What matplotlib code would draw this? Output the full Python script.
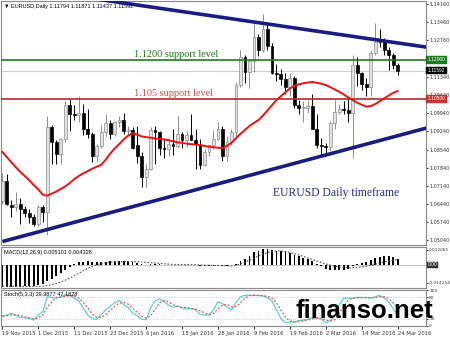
import numpy as np
import matplotlib
matplotlib.use("Agg")
import matplotlib.pyplot as plt
import matplotlib.transforms as mtrans

# EURUSD daily candles, 19 Nov 2015 .. 24 Mar 2016
opens = [1.0655, 1.0732, 1.0640, 1.0634, 1.0644, 1.0626, 1.0611, 1.0592, 1.0565, 1.0632,
         1.0612, 1.0940, 1.0882, 1.0836, 1.0894, 1.1025, 1.0993, 1.0989, 1.0994, 1.0935,
         1.0913, 1.0828, 1.0867, 1.0920, 1.0955, 1.0915, 1.0962, 1.0970, 1.0925, 1.0930,
         1.0870, 1.0830, 1.0748, 1.0780, 1.0930, 1.0920, 1.0860, 1.0857, 1.0875, 1.0867,
         1.0915, 1.0890, 1.0910, 1.0890, 1.0875, 1.0795, 1.0845, 1.0870, 1.0895, 1.0935,
         1.0830, 1.0885, 1.0920, 1.1105, 1.1210, 1.1155, 1.1195, 1.1290, 1.1240, 1.1320,
         1.1255, 1.1150, 1.1145, 1.1125, 1.1095, 1.1130, 1.1025, 1.1015, 1.1015, 1.1023,
         1.0935, 1.0872, 1.0868, 1.0865, 1.0955, 1.1000, 1.1012, 1.1008, 1.0995, 1.1180,
         1.1150, 1.1106, 1.1095, 1.1225, 1.1270, 1.1268, 1.1240, 1.1220, 1.11794]
highs = [1.0762, 1.0760, 1.0660, 1.0690, 1.0667, 1.0637, 1.0623, 1.0605, 1.0642, 1.0640,
         1.0982, 1.0948, 1.0892, 1.0900, 1.1043, 1.1050, 1.1025, 1.1060, 1.1030, 1.1010,
         1.0920, 1.0875, 1.0950, 1.0990, 1.0970, 1.0965, 1.0985, 1.0995, 1.0945, 1.0940,
         1.0945, 1.0845, 1.0800, 1.0940, 1.0945, 1.0925, 1.0900, 1.0900, 1.0935, 1.0985,
         1.0920, 1.0925, 1.0990, 1.0935, 1.0895, 1.0855, 1.0870, 1.0930, 1.0960, 1.0945,
         1.0905, 1.0935, 1.1115, 1.1240, 1.1220, 1.1200, 1.1340, 1.1300, 1.1376, 1.1340,
         1.1265, 1.1185, 1.1165, 1.1150, 1.1150, 1.1140, 1.1045, 1.1040, 1.1045, 1.1070,
         1.0990, 1.0900, 1.0880, 1.0965, 1.1045, 1.1030, 1.1040, 1.1055, 1.1218, 1.1210,
         1.1155, 1.1130, 1.1240, 1.1342, 1.1320, 1.1285, 1.1250, 1.1225, 1.11871]
lows = [1.0645, 1.0640, 1.0592, 1.0616, 1.0565, 1.0593, 1.0570, 1.0558, 1.0558, 1.0573,
        1.0524, 1.0800, 1.0797, 1.0800, 1.0882, 1.0925, 1.0970, 1.0960, 1.0910, 1.0900,
        1.0805, 1.0805, 1.0860, 1.0905, 1.0895, 1.0905, 1.0940, 1.0915, 1.0905, 1.0855,
        1.0804, 1.0710, 1.0710, 1.0775, 1.0800, 1.0835, 1.0820, 1.0830, 1.0835, 1.0860,
        1.0860, 1.0865, 1.0890, 1.0780, 1.0780, 1.0790, 1.0830, 1.0855, 1.0890, 1.0810,
        1.0810, 1.0870, 1.0900, 1.1095, 1.1110, 1.1090, 1.1155, 1.1215, 1.1230, 1.1240,
        1.1145, 1.1120, 1.1105, 1.1070, 1.1060, 1.1015, 1.0990, 1.0960, 1.0995, 1.0935,
        1.0860, 1.0835, 1.0830, 1.0850, 1.0935, 1.0990, 1.0990, 1.0960, 1.0822, 1.1100,
        1.1085, 1.1060, 1.1060, 1.1220, 1.1250, 1.1220, 1.1160, 1.1165, 1.11437]
closes = [1.0732, 1.0645, 1.0634, 1.0644, 1.0626, 1.0611, 1.0592, 1.0565, 1.0632, 1.0612,
          1.0940, 1.0882, 1.0836, 1.0894, 1.1025, 1.0993, 1.0989, 1.0994, 1.0935, 1.0913,
          1.0828, 1.0867, 1.0920, 1.0955, 1.0915, 1.0962, 1.0970, 1.0925, 1.0930, 1.0862,
          1.0830, 1.0748, 1.0780, 1.0930, 1.0920, 1.0860, 1.0857, 1.0875, 1.0867, 1.0915,
          1.0890, 1.0910, 1.0890, 1.0875, 1.0795, 1.0845, 1.0870, 1.0895, 1.0935, 1.0830,
          1.0885, 1.0920, 1.1105, 1.1210, 1.1155, 1.1195, 1.1290, 1.1240, 1.1320, 1.1255,
          1.1150, 1.1145, 1.1125, 1.1095, 1.1130, 1.1025, 1.1015, 1.1015, 1.1023, 1.0935,
          1.0872, 1.0868, 1.0865, 1.0955, 1.1000, 1.1012, 1.1008, 1.0995, 1.1180, 1.1150,
          1.1106, 1.1095, 1.1225, 1.1270, 1.1268, 1.1240, 1.1220, 1.1179, 1.11592]

# red moving average as drawn on the chart
ma_line = [1.0845, 1.0825, 1.0805, 1.0786, 1.0768, 1.0752, 1.0735, 1.0717, 1.0700, 1.0680,
           1.0676, 1.0684, 1.0692, 1.0702, 1.0712, 1.0725, 1.0740, 1.0752, 1.0762, 1.0771,
           1.0780, 1.0788, 1.0795, 1.0815, 1.0838, 1.0858, 1.0875, 1.0893, 1.0908, 1.0918,
           1.0912, 1.0905, 1.0902, 1.0900, 1.0897, 1.0895, 1.0893, 1.0890, 1.0886, 1.0882,
           1.0880, 1.0877, 1.0875, 1.0873, 1.0872, 1.0868, 1.0865, 1.0863, 1.0861, 1.0860,
           1.0868, 1.0880, 1.0898, 1.0915, 1.0930, 1.0945, 1.0957, 1.0968, 1.0985, 1.1005,
           1.1025, 1.1045, 1.1060, 1.1075, 1.1090, 1.1100, 1.1106, 1.1110, 1.1113, 1.1115,
           1.1112, 1.1108, 1.1103, 1.1095, 1.1086, 1.1077, 1.1067, 1.1055, 1.1045, 1.1035,
           1.1027, 1.1020, 1.1022, 1.1030, 1.1040, 1.1052, 1.1063, 1.1073, 1.1080]

macd_main = [-0.0176, -0.0176, -0.0175, -0.0174, -0.0172, -0.0170, -0.0168, -0.0166, -0.0160, -0.0150,
             -0.0130, -0.0108, -0.0085, -0.0062, -0.0040, -0.0015, 0.0008, 0.0020, 0.0026, 0.0028,
             0.0022, 0.0020, 0.0022, 0.0026, 0.0028, 0.0030, 0.0032, 0.0031, 0.0030, 0.0024,
             0.0018, 0.0008, 0.0002, 0.0008, 0.0010, 0.0006, 0.0003, 0.0002, 0.0001, 0.0003,
             0.0002, 0.0002, 0.0000, -0.0002, -0.0008, -0.0009, -0.0008, -0.0005, -0.0001, -0.0008,
             -0.0006, -0.0002, 0.0010, 0.0030, 0.0050, 0.0075, 0.0100, 0.0115, 0.0125, 0.0130,
             0.0122, 0.0115, 0.0108, 0.0100, 0.0092, 0.0080, 0.0068, 0.0056, 0.0045, 0.0030,
             0.0010, -0.0010, -0.0030, -0.0038, -0.0040, -0.0042, -0.0040, -0.0035, -0.0005, 0.0010,
             0.0018, 0.0025, 0.0038, 0.0052, 0.0062, 0.0068, 0.0068, 0.0062, 0.005101]
macd_signal = [-0.0168, -0.0169, -0.0170, -0.0171, -0.0171, -0.0172, -0.0172, -0.0172, -0.0171, -0.0169,
               -0.0164, -0.0157, -0.0147, -0.0135, -0.0121, -0.0104, -0.0086, -0.0066, -0.0046, -0.0027,
               -0.0011, 0.0002, 0.0012, 0.0018, 0.0023, 0.0025, 0.0026, 0.0027, 0.0028, 0.0027,
               0.0026, 0.0024, 0.0021, 0.0019, 0.0016, 0.0013, 0.0010, 0.0007, 0.0005, 0.0004,
               0.0004, 0.0004, 0.0003, 0.0002, 0.0000, -0.0001, -0.0002, -0.0003, -0.0004, -0.0005,
               -0.0006, -0.0006, -0.0002, 0.0008, 0.0022, 0.0038, 0.0055, 0.0072, 0.0088, 0.0100,
               0.0108, 0.0112, 0.0112, 0.0108, 0.0100, 0.0090, 0.0080, 0.0068, 0.0056, 0.0044,
               0.0032, 0.0020, 0.0008, -0.0002, -0.0010, -0.0016, -0.0020, -0.0022, -0.0022, -0.0020,
               -0.0016, -0.0010, -0.0003, 0.0006, 0.0015, 0.0024, 0.0032, 0.0038, 0.004328]

stoch_k = [25, 30, 35, 28, 24, 22, 20, 16, 30, 40,
           82, 80, 78, 82, 88, 86, 78, 70, 50, 30,
           20, 18, 30, 45, 55, 65, 72, 60, 52, 35,
           28, 18, 17, 50, 70, 76, 68, 58, 52, 55,
           50, 48, 48, 45, 32, 30, 30, 45, 68, 62,
           53, 44, 65, 82, 86, 86, 86, 85, 84, 80,
           70, 45, 20, 8, 10, 11, 14, 16, 18, 22,
           22, 18, 8, 14, 30, 60, 78, 78, 78, 80,
           80, 79, 78, 82, 86, 78, 67, 48, 29.3877]
stoch_d = [28, 28, 30, 31, 29, 25, 22, 19, 22, 30,
           52, 68, 80, 80, 83, 85, 84, 78, 66, 50,
           33, 23, 23, 31, 43, 55, 64, 66, 61, 49,
           38, 27, 21, 28, 46, 65, 71, 67, 59, 55,
           52, 51, 49, 47, 42, 36, 31, 35, 48, 58,
           61, 53, 54, 64, 78, 85, 86, 86, 85, 83,
           78, 65, 45, 24, 13, 10, 12, 14, 16, 19,
           21, 21, 16, 13, 17, 35, 56, 72, 78, 79,
           79, 80, 79, 80, 82, 82, 77, 64, 47.1828]

date_labels = ["19 Nov 2015", "1 Dec 2015", "11 Dec 2015", "23 Dec 2015", "6 Jan 2016",
               "18 Jan 2016", "28 Jan 2016", "9 Feb 2016", "19 Feb 2016", "2 Mar 2016",
               "14 Mar 2016", "24 Mar 2016"]
date_label_bars = [0, 8, 16, 24, 32, 40, 48, 56, 64, 72, 80, 88]

price_ticks = [1.05040, 1.05740, 1.06440, 1.07140, 1.07840, 1.08540, 1.09240,
               1.09940, 1.10640, 1.11340, 1.12760, 1.13460, 1.14160]

support_high = 1.1200
support_low = 1.1050
last_price = 1.11592
# trend lines as (bar, price) end points
upper_trend = ([0, 95], [1.1488, 1.1248])
lower_trend = ([0, 95], [1.0499, 1.0940])

W, H = 450, 337
serif = ["Liberation Serif", "DejaVu Serif"]
sans = ["Liberation Sans", "DejaVu Sans"]
SCALE_FS = 3.5   # right hand price scale


def panel(top, bottom):
    # pixel rows -> figure axes
    return fig.add_axes([1 / W, 1 - bottom / H, 425 / W, (bottom - top) / H])


fig = plt.figure(figsize=(W / 100, H / 100), dpi=100)
fig.patch.set_facecolor("white")

ax = panel(1, 245)
ax_macd = panel(247, 288)
ax_sto = panel(290, 326)

x = np.arange(len(closes))
o = np.array(opens)
c = np.array(closes)
h = np.array(highs)
l = np.array(lows)
up = c >= o

# candles
ax.vlines(x[up], l[up], h[up], color="#8c8c8c", lw=0.7, zorder=2)
ax.vlines(x[~up], l[~up], h[~up], color="black", lw=0.7, zorder=2)
body_lo = np.minimum(o, c)
body_h = np.maximum(np.abs(c - o), 0.00018)
ax.bar(x[up], body_h[up], bottom=body_lo[up], width=0.62, color="#e2e2e2",
       edgecolor="#8c8c8c", linewidth=0.5, zorder=2)
ax.bar(x[~up], body_h[~up], bottom=body_lo[~up], width=0.62, color="black",
       edgecolor="black", linewidth=0.5, zorder=2)

ax.axhline(last_price, color="#cfcfcf", lw=0.8, zorder=1)
ax.axhline(support_high, color="#1f7a1f", lw=1.2, zorder=3)
ax.axhline(support_low, color="#b52a2a", lw=1.2, zorder=3)
ax.plot(x, ma_line, color="#f01010", lw=1.4, zorder=4)
ax.plot(upper_trend[0], upper_trend[1], color="#1c1c80", lw=2.6, zorder=4,
        solid_capstyle="butt")
ax.plot(lower_trend[0], lower_trend[1], color="#1c1c80", lw=2.6, zorder=4,
        solid_capstyle="butt")

ax.set_xlim(-0.3, 94.3)
ax.set_ylim(1.04857, 1.14276)

ax.text(29.2, 1.1212, "1.1200 support level", color="#1f7a1f", family=serif,
        fontsize=7.4, va="baseline", zorder=5)
ax.text(29.2, 1.1061, "1.105 support level", color="#d05050", family=serif,
        fontsize=7.4, va="baseline", zorder=5)
ax.text(60.2, 1.0686, "EURUSD Daily timeframe", color="#2a2a8a", family=serif,
        fontsize=8.4, va="center", zorder=5)
ax.text(0.008, 0.988, "\u25bc EURUSD,Daily 1.11794 1.11871 1.11437 1.11592",
        transform=ax.transAxes, family=sans, fontsize=4, va="top")

# right side price scale + marker boxes
ax.yaxis.tick_right()
ax.set_yticks(price_ticks)
ax.set_yticklabels([f"{p:.5f}" for p in price_ticks])
ax.set_xticks([])
ax.tick_params(axis="y", labelsize=SCALE_FS, length=1.5, pad=0.8, colors="#333333")
blend = mtrans.blended_transform_factory(ax.transAxes, ax.transData)
for val, txt, col in [(support_high, "1.12000", "#1f7a1f"),
                      (last_price, "1.11592", "black"),
                      (support_low, "1.10500", "#c83232")]:
    ax.text(1.004, val, txt, transform=blend, fontsize=SCALE_FS, family=sans, color="white",
            va="center", ha="left", zorder=6, clip_on=False,
            bbox=dict(boxstyle="square,pad=0.3", fc=col, ec=col, lw=0.3))

# MACD
ax_macd.bar(x, macd_main, width=0.38, color="black", zorder=2)
ax_macd.plot(x, macd_signal, color="#555555", lw=0.8, ls=(0, (1.5, 1.5)), zorder=3)
ax_macd.axhline(0, color="#999999", lw=0.4, zorder=1)
ax_macd.set_xlim(-0.3, 94.3)
ax_macd.set_ylim(-0.01835, 0.01436)
ax_macd.yaxis.tick_right()
ax_macd.set_yticks([0.012065, -0.014254])
ax_macd.set_yticklabels(["0.012065", "-0.014254"])
ax_macd.set_xticks([])
ax_macd.tick_params(axis="y", labelsize=3.1, length=1.5, pad=0.6, colors="#333333")
ax_macd.text(0.008, 0.93, "MACD(12,26,9) 0.005101 0.004328", transform=ax_macd.transAxes,
             family=sans, fontsize=4, va="top")
blend_m = mtrans.blended_transform_factory(ax_macd.transAxes, ax_macd.transData)
ax_macd.text(1.004, 0, "0.00", transform=blend_m, fontsize=SCALE_FS, family=sans, color="white",
             va="center", ha="left", clip_on=False,
             bbox=dict(boxstyle="square,pad=0.2", fc="#333333", ec="#333333", lw=0.3))

# Stochastic
ax_sto.plot(x, stoch_k, color="#5cd0d0", lw=0.9, zorder=3)
ax_sto.plot(x, stoch_d, color="#f05050", lw=0.9, ls=(0, (1.5, 1.5)), zorder=3)
for lvl in (20, 80):
    ax_sto.axhline(lvl, color="#aaaaaa", lw=0.5, ls=(0, (1, 2)), zorder=1)
ax_sto.set_xlim(-0.3, 94.3)
ax_sto.set_ylim(-1, 101)
ax_sto.yaxis.tick_right()
ax_sto.set_yticks([0, 20, 80, 100])
ax_sto.set_yticklabels(["0", "20", "80", "100"])
ax_sto.tick_params(axis="y", labelsize=3.2, length=1.5, pad=0.8, colors="#333333")
ax_sto.set_xticks(date_label_bars)
ax_sto.set_xticklabels(date_labels, ha="left")
ax_sto.tick_params(axis="x", labelsize=3.8, length=2, pad=1.5, colors="#333333")
ax_sto.text(0.008, 0.95, "Stoch(5,3,3) 29.3877 47.1828", transform=ax_sto.transAxes,
            family=sans, fontsize=4, va="top")

for a in (ax, ax_macd, ax_sto):
    a.set_facecolor("white")
    for s in a.spines.values():
        s.set_color("#8a8a8a")
        s.set_linewidth(0.8)

fig.text(296 / W, 1 - 318 / H, "finanso.net", family=sans, fontweight="bold",
         fontsize=18.5, color="black", va="baseline", ha="left")

fig.savefig("out.png", dpi=100)
